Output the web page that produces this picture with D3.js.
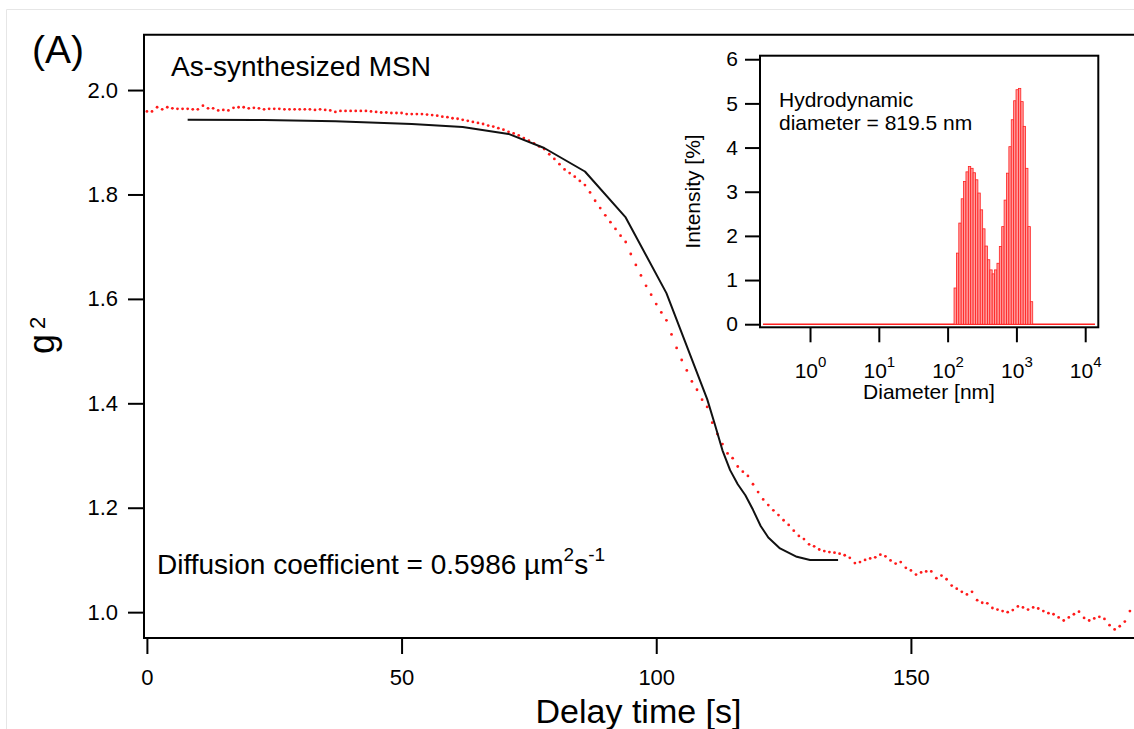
<!DOCTYPE html>
<html><head><meta charset="utf-8">
<script src="https://cdn.jsdelivr.net/npm/d3@7/dist/d3.min.js"></script>
<style>
html,body{margin:0;padding:0;background:#fff;}
svg{display:block;font-family:"Liberation Sans",Arial,Helvetica,sans-serif;}
</style></head><body>
<svg id="chart" width="1134" height="729"></svg>
<script>
// ---------------- data ----------------
// measured correlation g2, one point per second of delay time starting at 0 s
const delayStart = 0;
const delayStep = 1;
const g2Measured = [
1.959,1.959,1.967,1.963,1.967,1.965,1.964,1.964,1.964,1.963,
1.963,1.970,1.965,1.965,1.961,1.962,1.961,1.966,1.967,1.967,
1.965,1.966,1.965,1.963,1.964,1.964,1.964,1.963,1.963,1.963,
1.963,1.963,1.963,1.962,1.963,1.962,1.961,1.958,1.960,1.960,
1.960,1.960,1.960,1.960,1.959,1.958,1.957,1.957,1.956,1.956,
1.956,1.954,1.954,1.954,1.954,1.953,1.952,1.951,1.949,1.948,
1.946,1.945,1.943,1.941,1.939,1.937,1.935,1.932,1.930,1.927,
1.924,1.920,1.917,1.913,1.908,1.903,1.898,1.892,1.887,1.877,
1.868,1.858,1.848,1.841,1.834,1.826,1.818,1.804,1.788,1.774,
1.760,1.747,1.734,1.721,1.709,1.686,1.665,1.645,1.625,1.608,
1.590,1.574,1.559,1.532,1.506,1.483,1.463,1.442,1.426,1.407,
1.393,1.363,1.341,1.322,1.304,1.295,1.279,1.269,1.261,1.245,
1.230,1.216,1.205,1.195,1.186,1.176,1.167,1.156,1.146,1.140,
1.130,1.126,1.120,1.117,1.115,1.114,1.112,1.109,1.104,1.094,
1.096,1.100,1.103,1.105,1.110,1.107,1.099,1.093,1.096,1.085,
1.080,1.072,1.076,1.078,1.078,1.065,1.070,1.063,1.051,1.045,
1.039,1.034,1.039,1.023,1.018,1.017,1.008,1.005,1.002,1.000,
1.004,1.011,1.009,1.005,1.009,1.007,1.002,0.998,0.996,0.990,
0.984,0.990,0.996,1.001,0.989,0.984,0.988,0.991,0.987,0.975,
0.967,0.973,0.982,1.002
];
// fitted curve
const fitTimes  = [8, 23, 37, 52, 62, 71, 78, 86, 94, 102, 110, 111.5, 113, 114.5, 116, 117.5, 119, 120.5, 122, 124.3, 127.6, 130.2, 135.7];
const fitValues = [1.943, 1.9425, 1.940, 1.935, 1.929, 1.916, 1.889, 1.844, 1.756, 1.611, 1.408, 1.360, 1.310, 1.272, 1.245, 1.224, 1.196, 1.165, 1.143, 1.122, 1.106, 1.100, 1.100];
const mainYTicks = [1.0, 1.2, 1.4, 1.6, 1.8, 2.0];
const mainXTicks = [0, 50, 100, 150];

// inset: size distribution (log-spaced bins)
const intensity = [0.82,1.61,2.29,2.84,3.23,3.45,3.57,3.53,3.43,3.27,2.97,2.59,2.16,1.77,1.46,1.23,1.14,1.23,1.38,1.76,2.21,2.81,3.42,4.02,4.63,5.06,5.31,5.34,5.04,4.48,3.53,2.21,0.51];
const binEdgesNm = [124, 1726];        // lower edge of first bin, upper edge of last bin
const zeroBaselineNm = [0.207, 13870]; // extent of the empty bins drawn at 0
const insetYTicks = [0, 1, 2, 3, 4, 5, 6];
const insetXTicks = [1, 10, 100, 1000, 10000];
const insetXExp = ["0", "1", "2", "3", "4"];

// ---------------- drawing ----------------
const FONT = '"Liberation Sans", Arial, Helvetica, sans-serif';
const svg = d3.select("#chart");
svg.append("rect").attr("width", 1134).attr("height", 729).attr("fill", "#fff");
svg.append("path").attr("d", "M6.5,729 V9.5 H1134").attr("fill", "none").attr("stroke", "#e6e6e6").attr("stroke-width", 1);

const M = {left: 144, right: 1134, top: 34.7, bottom: 638};
const x = d3.scaleLinear().domain([-0.57, 193.8]).range([M.left, M.right]);
const y = d3.scaleLinear().domain([0.9505, 2.106]).range([M.bottom, M.top]);

function styleAxis(g, fs) {
  g.attr("font-family", FONT);
  g.select(".domain").remove();
  g.selectAll(".tick line").attr("stroke", "#000").attr("stroke-width", 2);
  g.selectAll(".tick text").attr("fill", "#000").attr("font-size", fs);
}

const gy = svg.append("g").attr("transform", `translate(${M.left},0)`)
  .call(d3.axisLeft(y).tickValues(mainYTicks).tickFormat(d3.format(".1f")).tickSize(16).tickSizeOuter(0).tickPadding(10));
styleAxis(gy, 22);
const gx = svg.append("g").attr("transform", `translate(0,${M.bottom})`)
  .call(d3.axisBottom(x).tickValues(mainXTicks).tickFormat(d3.format("d")).tickSize(16).tickSizeOuter(0).tickPadding(15));
styleAxis(gx, 22);

// frame (left, top, bottom)
svg.append("path").attr("d", `M${M.left},${M.bottom} V${M.top} H${M.right}`).attr("fill", "none").attr("stroke", "#000").attr("stroke-width", 2);
svg.append("path").attr("d", `M${M.left - 1},${M.bottom} H${M.right}`).attr("fill", "none").attr("stroke", "#000").attr("stroke-width", 2);

// measured dots
const measured = g2Measured.map((v, i) => ({t: delayStart + i * delayStep, v}));
svg.append("g").selectAll("circle").data(measured).join("circle")
  .attr("cx", d => x(d.t)).attr("cy", d => y(d.v)).attr("r", 1.4).attr("fill", "#ff1a1a");

// fit line
const fit = fitTimes.map((t, i) => ({t, v: fitValues[i]}));
svg.append("path").datum(fit)
  .attr("d", d3.line().x(d => x(d.t)).y(d => y(d.v)))
  .attr("fill", "none").attr("stroke", "#111").attr("stroke-width", 2).attr("stroke-linejoin", "round");

// texts main
svg.append("text").attr("x", 32).attr("y", 63).attr("font-size", 39).attr("font-family", FONT).text("(A)");
svg.append("text").attr("x", 171).attr("y", 76).attr("font-size", 28).attr("font-family", FONT).text("As-synthesized MSN");
const dc = svg.append("text").attr("x", 157).attr("y", 574).attr("font-size", 28).attr("font-family", FONT);
dc.append("tspan").text("Diffusion coefficient = 0.5986 µm");
dc.append("tspan").attr("font-size", 19).attr("dy", -13).text("2");
dc.append("tspan").attr("dy", 13).text("s");
dc.append("tspan").attr("font-size", 19).attr("dy", -13).text("-1");

const yl = svg.append("text").attr("transform", "translate(54,354) rotate(-90)")
  .attr("font-size", 36).attr("font-family", FONT);
yl.append("tspan").text("g");
yl.append("tspan").attr("font-size", 22).attr("dx", 5).attr("dy", -9).text("2");
svg.append("text").attr("x", 638.5).attr("y", 723).attr("text-anchor", "middle").attr("font-size", 34).attr("font-family", FONT).text("Delay time [s]");

// ---------------- inset ----------------
const I = {left: 760, right: 1098.3, top: 55.7, bottom: 327.3};
const xi = d3.scaleLog().domain([0.1875, 15500]).range([I.left, I.right]);
const yi = d3.scaleLinear().domain([-0.07, 6.08]).range([I.bottom, I.top]);

svg.append("rect").attr("x", I.left).attr("y", I.top).attr("width", I.right - I.left).attr("height", I.bottom - I.top).attr("fill", "#fff");

// zero baseline of empty bins
svg.append("line").attr("x1", xi(zeroBaselineNm[0])).attr("x2", xi(zeroBaselineNm[1]))
  .attr("y1", yi(0)).attr("y2", yi(0)).attr("stroke", "#ff2020").attr("stroke-width", 1.5);

const lg0 = Math.log10(binEdgesNm[0]), lg1 = Math.log10(binEdgesNm[1]);
const stepLg = (lg1 - lg0) / intensity.length;
const bins = intensity.map((v, i) => ({lo: Math.pow(10, lg0 + i * stepLg), hi: Math.pow(10, lg0 + (i + 1) * stepLg), v}));
svg.append("g").selectAll("rect").data(bins).join("rect")
  .attr("x", d => xi(d.lo)).attr("width", d => xi(d.hi) - xi(d.lo))
  .attr("y", d => yi(d.v)).attr("height", d => yi(0) - yi(d.v))
  .attr("fill", "#ff9c9c").attr("stroke", "#ff2020").attr("stroke-width", 0.8);

svg.append("rect").attr("x", I.left).attr("y", I.top).attr("width", I.right - I.left).attr("height", I.bottom - I.top)
  .attr("fill", "none").attr("stroke", "#000").attr("stroke-width", 2);

const giy = svg.append("g").attr("transform", `translate(${I.left},0)`)
  .call(d3.axisLeft(yi).tickValues(insetYTicks).tickFormat(d3.format("d")).tickSize(15).tickSizeOuter(0).tickPadding(7));
styleAxis(giy, 21);
const gix = svg.append("g").attr("transform", `translate(0,${I.bottom})`)
  .call(d3.axisBottom(xi).tickValues(insetXTicks).tickFormat(() => "").tickSize(15).tickSizeOuter(0));
styleAxis(gix, 21);
gix.selectAll(".tick text").each(function(d, i) {
  const t = d3.select(this).attr("y", 50.5).attr("dy", null).attr("text-anchor", "middle");
  t.append("tspan").text("10");
  t.append("tspan").attr("font-size", 15).attr("dy", -11).text(insetXExp[i]);
});

const hd = svg.append("text").attr("x", 779).attr("font-size", 21).attr("font-family", FONT);
hd.append("tspan").attr("x", 779).attr("y", 107).text("Hydrodynamic");
hd.append("tspan").attr("x", 779).attr("y", 130).text("diameter = 819.5 nm");
svg.append("text").attr("x", 929).attr("y", 399).attr("text-anchor", "middle").attr("font-size", 21).attr("font-family", FONT).text("Diameter [nm]");
svg.append("text").attr("transform", "translate(700,191.5) rotate(-90)").attr("text-anchor", "middle").attr("font-size", 21).attr("font-family", FONT).text("Intensity [%]");
</script>
</body></html>
